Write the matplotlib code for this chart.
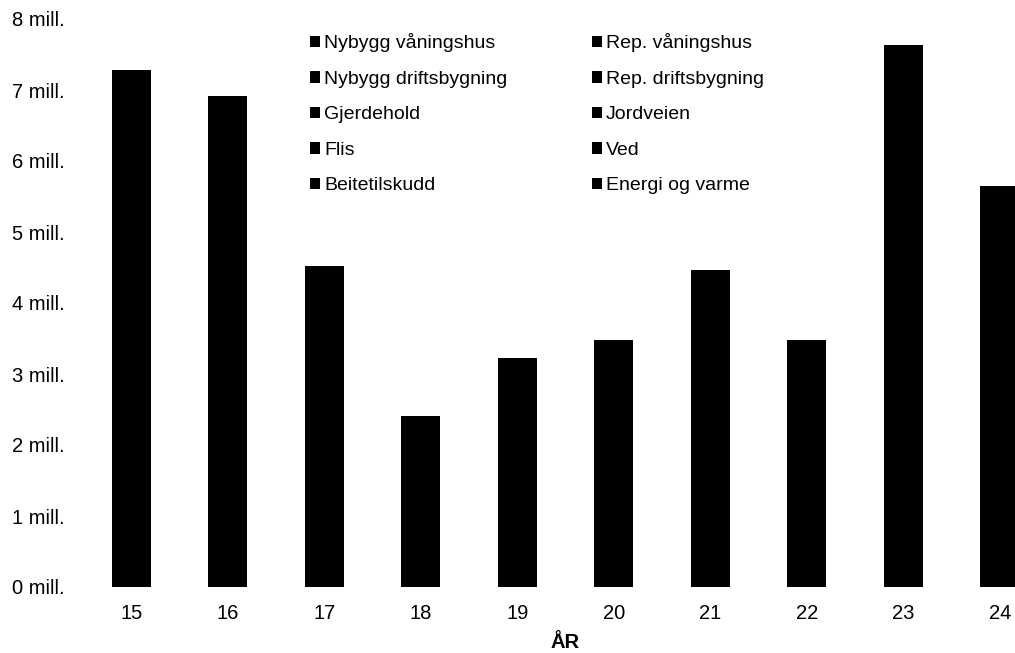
import numpy as np
import matplotlib.pyplot as plt

plt.rcParams['font.family'] = ['Liberation Sans', 'DejaVu Sans']

years = ['15', '16', '17', '18', '19', '20', '21', '22', '23', '24']

# values in mill. kr per year (segments estimated, totals)
nybygg_vaningshus = [0.20, 0.19, 0.00, 0.00, 0.00, 0.00, 0.00, 0.00, 0.00, 0.00]
rep_vaningshus = [4.50, 3.81, 1.20, 0.40, 0.80, 1.00, 1.60, 1.00, 1.45, 1.20]
nybygg_driftsbygning = [0.00, 0.00, 0.00, 0.00, 0.00, 0.00, 0.00, 0.00, 1.92, 0.00]
rep_driftsbygning = [0.40, 1.00, 1.80, 0.90, 1.20, 1.30, 1.50, 1.40, 2.40, 2.00]
gjerdehold = [0.90, 0.80, 0.60, 0.40, 0.50, 0.50, 0.60, 0.50, 0.80, 0.90]
jordveien = [0.40, 0.40, 0.30, 0.20, 0.20, 0.20, 0.20, 0.20, 0.30, 0.35]
flis = [0.30, 0.25, 0.20, 0.15, 0.18, 0.10, 0.15, 0.10, 0.20, 0.40]
ved = [0.20, 0.15, 0.12, 0.10, 0.10, 0.10, 0.11, 0.08, 0.16, 0.30]
beitetilskudd = [0.28, 0.22, 0.20, 0.16, 0.15, 0.18, 0.20, 0.10, 0.30, 0.30]
energi_og_varme = [0.10, 0.10, 0.10, 0.10, 0.10, 0.10, 0.10, 0.10, 0.10, 0.20]

series = [
    ('Nybygg våningshus', nybygg_vaningshus),
    ('Rep. våningshus', rep_vaningshus),
    ('Nybygg driftsbygning', nybygg_driftsbygning),
    ('Rep. driftsbygning', rep_driftsbygning),
    ('Gjerdehold', gjerdehold),
    ('Jordveien', jordveien),
    ('Flis', flis),
    ('Ved', ved),
    ('Beitetilskudd', beitetilskudd),
    ('Energi og varme', energi_og_varme),
]

fig = plt.figure(figsize=(10.15, 6.53), dpi=100)
ax = fig.add_axes([83 / 1015, 66 / 653, 965 / 1015, 568 / 653])

x = np.arange(len(years))
bottom = np.zeros(len(years))
handles = []
for name, vals in series:
    b = ax.bar(x, vals, bottom=bottom, width=0.4, color='black', linewidth=0, label=name)
    handles.append(b)
    bottom += np.array(vals)

ax.set_xlim(-0.5, 9.5)
ax.set_ylim(0, 8)
ax.set_yticks(range(0, 9))
ax.set_yticklabels([f'{i} mill.' for i in range(0, 9)], fontsize=14.5)
ax.set_xticks(x)
ax.set_xticklabels(years, fontsize=14.5)
ax.tick_params(axis='x', length=0, pad=12.3)
ax.tick_params(axis='y', length=0, pad=13.5)
for s in ax.spines.values():
    s.set_visible(False)
ax.set_xlabel('ÅR', fontsize=14.5, fontweight='bold', labelpad=7)

# legend filled row by row, two columns
order = [0, 2, 4, 6, 8, 1, 3, 5, 7, 9]
leg = fig.legend([handles[i] for i in order], [series[i][0] for i in order],
                 ncol=2, frameon=False, fontsize=14,
                 loc='upper left', bbox_to_anchor=(292 / 1015, 1 - 16 / 653),
                 handlelength=0.55, handleheight=0.55, handletextpad=0.2,
                 columnspacing=4.33, labelspacing=0.95)

fig.savefig('out.png', dpi=100)
